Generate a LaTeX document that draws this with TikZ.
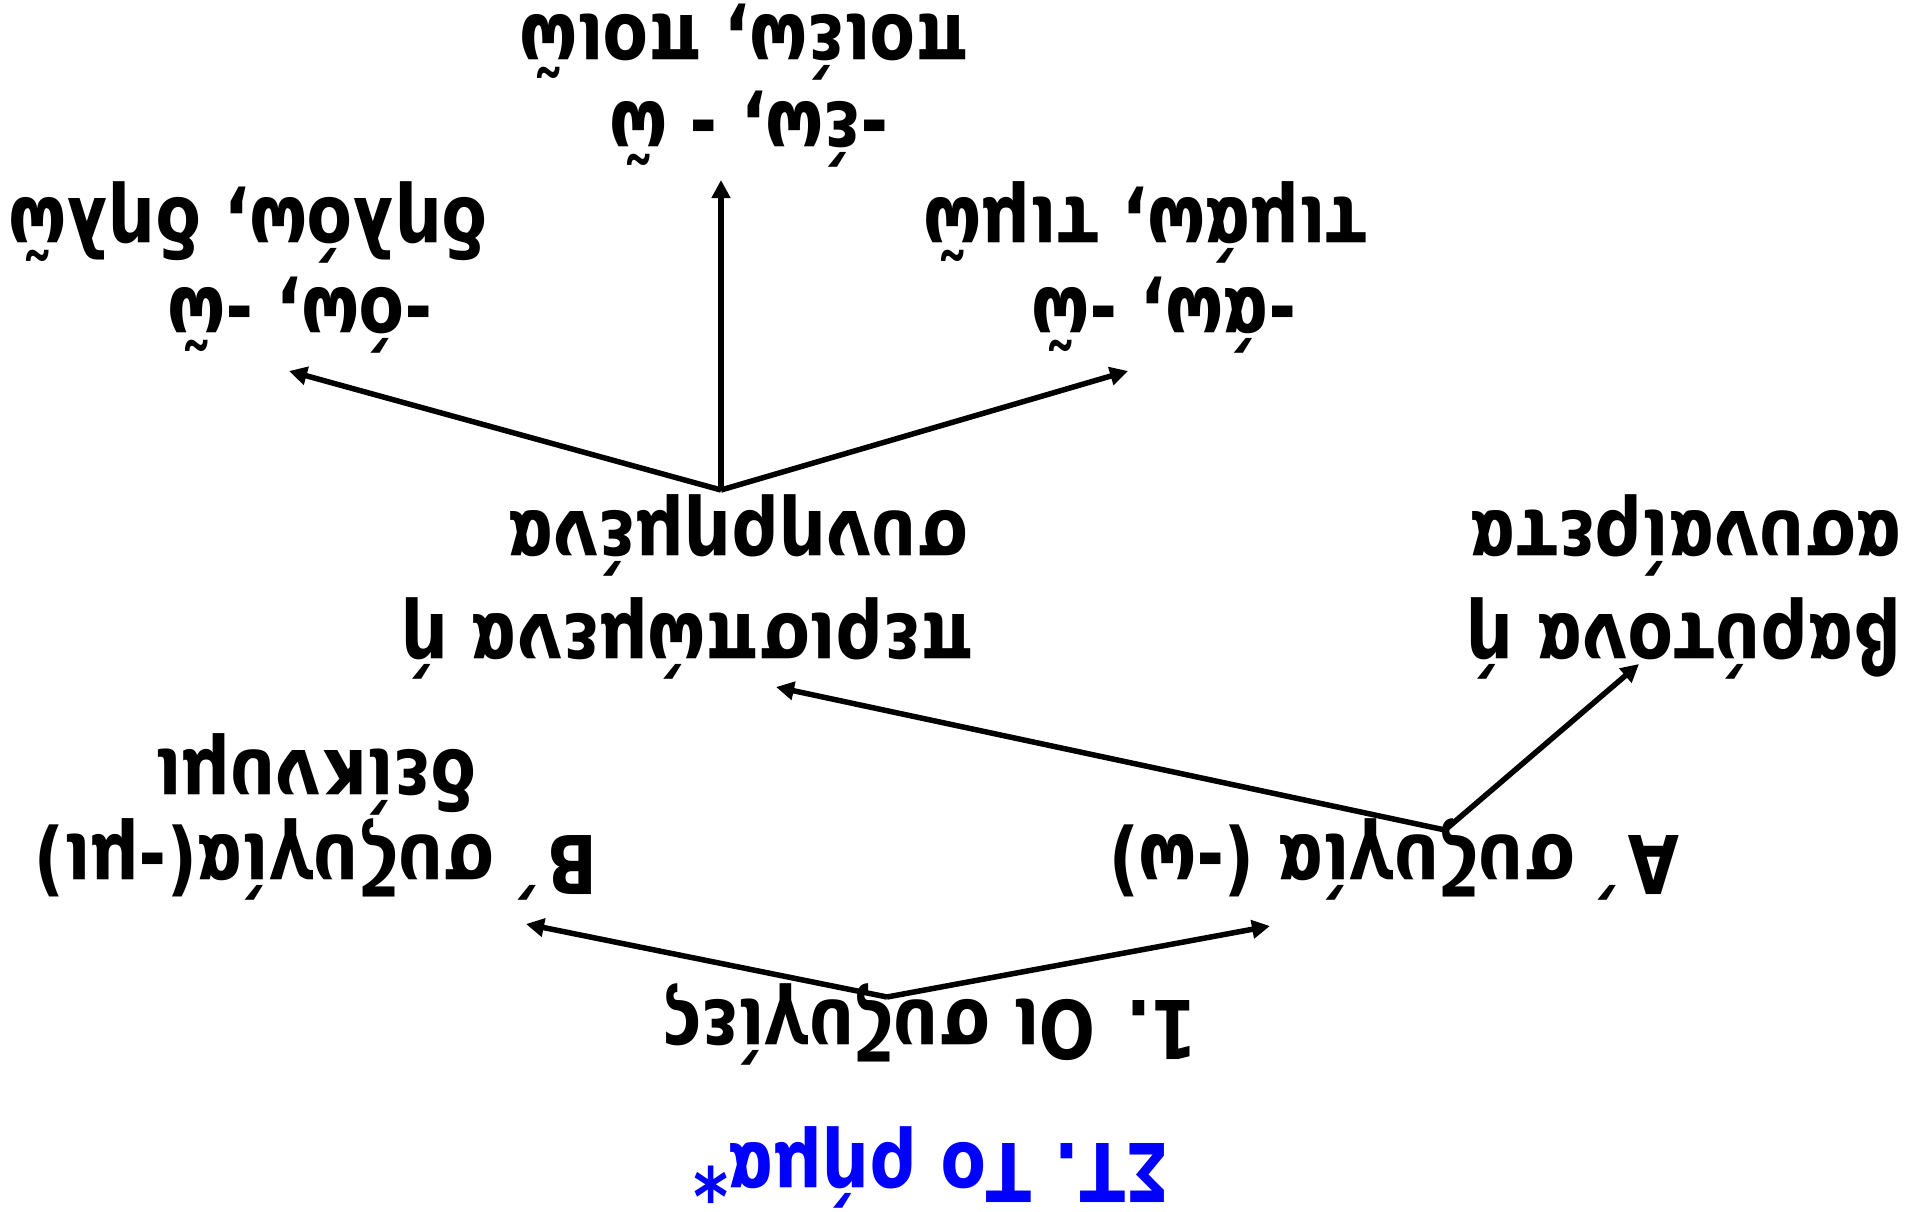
\documentclass[tikz,border=0pt]{standalone}
\usepackage{fontspec}
\setmainfont{DejaVu Sans}[FakeStretch=0.82]
\usetikzlibrary{arrows.meta}
\begin{document}
\begin{tikzpicture}[x=1pt,y=-1pt,
  lbl/.style={rotate=180,anchor=base,inner sep=0pt,font=\fontsize{81}{96}\selectfont\bfseries},
  conn/.style={line width=5.5pt,-{Triangle[length=18pt,width=18pt]}}]
\useasboundingbox (0,0) rectangle (1906,1212);
% texts
\node[lbl,text=blue] (title) at (932,1143) {ΣΤ. Το ρήμα*};
\node[lbl] (suz) at (930,1000) {1. Οι συζυγίες};
\node[lbl] (A) at (1394,835) {Α΄  συζυγία (-ω)};
\node[lbl] (B1) at (316,835) {Β΄ συζυγία(-μι)};
\node[lbl] (B2) at (316,750) {δείκνυμι};
\node[lbl] (bar1) at (1684,614) {βαρύτονα ή};
\node[lbl] (bar2) at (1686,511) {ασυναίρετα};
\node[lbl] (per1) at (687,614) {περισπώμενα ή};
\node[lbl] (per2) at (738,511) {συνηρημένα};
\node[lbl] (ao1) at (1164,288) {-άω, -ῶ};
\node[lbl] (ao2) at (1146,198) {τιμάω, τιμῶ};
\node[lbl] (eo1) at (749,103) {-έω, - ῶ};
\node[lbl] (eo2) at (744,16) {ποιέω, ποιῶ};
\node[lbl] (oo1) at (300,288) {-όω, -ῶ};
\node[lbl] (oo2) at (248,198) {δηλόω, δηλῶ};
% connector points
\coordinate (p1) at (887,997);
\coordinate (tB) at (526,924);
\coordinate (tA) at (1270,926);
\coordinate (p2) at (1445,830);
\coordinate (tper) at (776,687);
\coordinate (tbar) at (1639,664);
\coordinate (p3) at (721,490);
\coordinate (too) at (289,371);
\coordinate (teo) at (721,180);
\coordinate (tao) at (1128,371);
\draw[conn] (p1) -- (tB);
\draw[conn] (p1) -- (tA);
\draw[conn] (p2) -- (tper);
\draw[conn] (p2) -- (tbar);
\draw[conn] (p3) -- (too);
\draw[conn] (p3) -- (teo);
\draw[conn] (p3) -- (tao);
\end{tikzpicture}
\end{document}
